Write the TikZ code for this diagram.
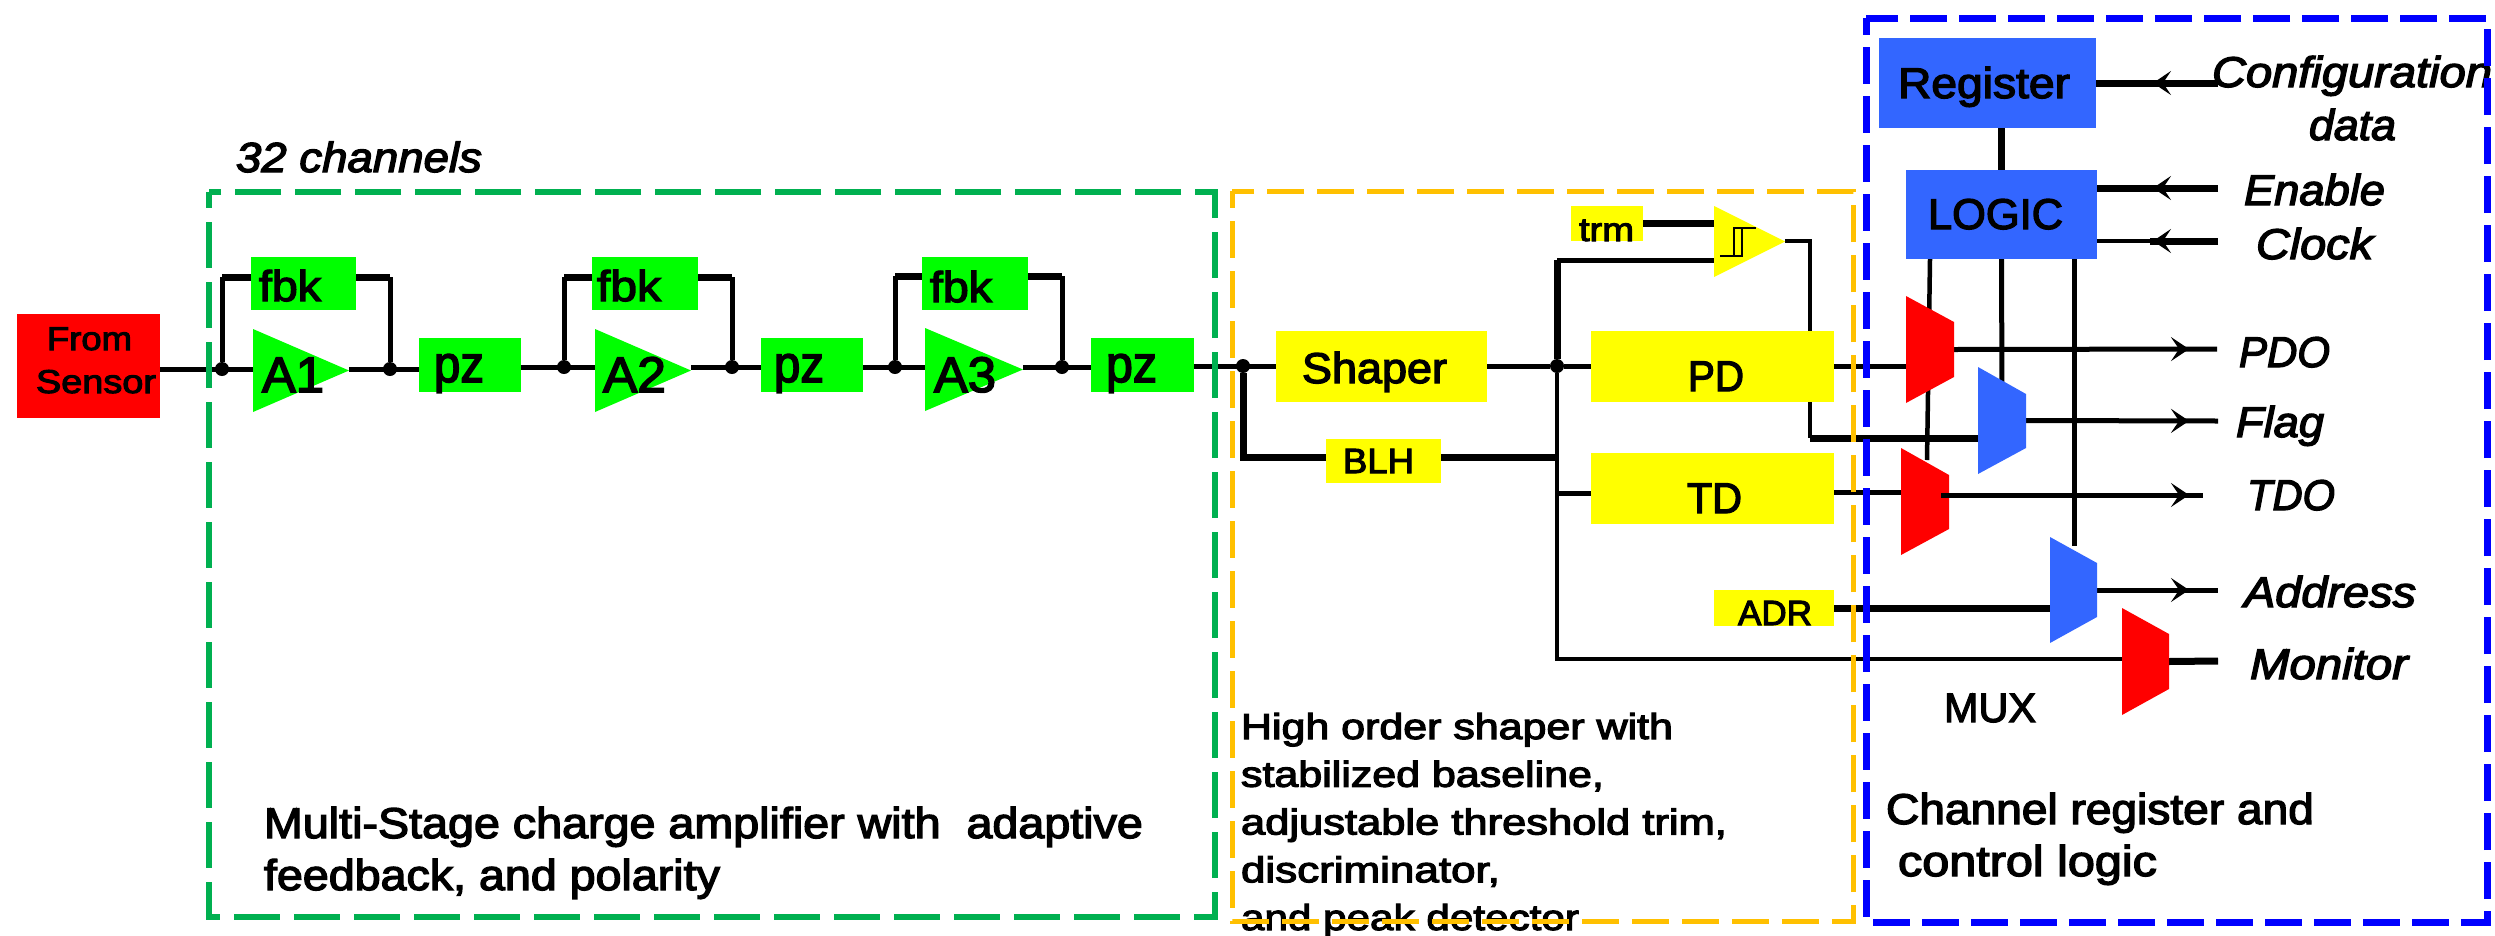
\documentclass[tikz,border=0pt]{standalone}
\usepackage{fontspec}
\setmainfont{Liberation Sans}[FakeBold=3]
\usetikzlibrary{arrows.meta,decorations.markings}
\pgfdeclarelayer{wires}
\pgfdeclarelayer{top}
\pgfsetlayers{wires,main,top}
\definecolor{frgreen}{HTML}{00B050}
\definecolor{frorange}{HTML}{FFC000}
\definecolor{frblue}{HTML}{0000FF}
\definecolor{fgreen}{HTML}{00FF00}
\definecolor{fyellow}{HTML}{FFFF00}
\definecolor{fred}{HTML}{FF0000}
\definecolor{fblue}{HTML}{3366FF}
\newcommand\fitw[2]{\sbox0{#2}\pgfmathsetmacro\fitr{#1/\the\wd0}\scalebox{\fitr}[1]{\usebox0}}
\newcommand\fs[1]{\fontsize{#1}{#1}\selectfont}
% name, style, x0, y0, x1, y1
\newcommand\boxn[6]{\node[#2,minimum width={(#5-#3)*1pt},minimum height={(#6-#4)*1pt}] (#1) at ({(#3+#5)/2},{(#4+#6)/2}) {};}
% name, colour, x0, x1, ytop, ybot
\newcommand\tri[6]{\fill[#2] (#3,#5) -- (#4,{(#5+#6)/2}) -- (#3,#6) -- cycle;
  \boxn{#1}{shapebox}{#3}{#5}{#4}{#6}}
% name, colour, x0, x1, ylt, ylb, yrt, yrb
\newcommand\mux[8]{\fill[#2] (#3,#5) -- (#4,#7) -- (#4,#8) -- (#3,#6) -- cycle;
  \boxn{#1}{shapebox}{#3}{#5}{#4}{#6}}
% name, size, x, baseline, width, text
\newcommand\lab[6]{\node[txt] (#1) at (#3,#4) {\fs{#2}\fitw{#5}{#6}};}
\newcommand\labi[6]{\node[txt] (#1) at (#3,#4) {\fs{#2}\itshape\fitw{#5}{#6}};}
\tikzset{
  shapebox/.style={inner sep=0pt,outer sep=0pt},
  gbox/.style={shapebox,fill=fgreen},
  ybox/.style={shapebox,fill=fyellow},
  rbox/.style={shapebox,fill=fred},
  bbox/.style={shapebox,fill=fblue},
  txt/.style={anchor=base west,inner sep=0pt,outer sep=0pt,text=black},
  jdot/.style={circle,fill=black,minimum size=14pt,inner sep=0pt},
  wire/.style={draw=black,line width=5pt,line cap=butt,line join=miter},
  wirethin/.style={draw=black,line width=4.5pt,line join=miter},
  wirethick/.style={draw=black,line width=7pt,line join=miter},
  arr/.style={postaction={decorate,decoration={markings,mark=at position #1 with {\arrow{Stealth[length=18pt,width=24pt,inset=8pt]}}}}},
  greenframe/.style={draw=frgreen,line width=6.5pt,dash pattern=on 46pt off 14pt,dash phase=30pt},
  orangeframe/.style={draw=frorange,line width=5pt,dash pattern=on 37pt off 13pt,dash phase=20pt},
  blueframe/.style={draw=frblue,line width=7pt,dash pattern=on 37pt off 12pt,dash phase=20pt},
}
\begin{document}
\begin{tikzpicture}[x=1pt,y=-1pt]
\useasboundingbox (0,0) rectangle (2495,935);
% ---- blocks
\boxn{Sensor}{rbox}{17}{314}{160}{418}
\boxn{fbk1}{gbox}{251}{257}{356}{310}
\boxn{fbk2}{gbox}{592}{257}{698}{310}
\boxn{fbk3}{gbox}{922}{257}{1028}{310}
\tri{A1}{fgreen}{253}{349}{329}{412}
\tri{A2}{fgreen}{595}{691}{329}{412}
\tri{A3}{fgreen}{925}{1023}{328}{411}
\boxn{pz1}{gbox}{419}{338}{521}{392}
\boxn{pz2}{gbox}{761}{338}{863}{392}
\boxn{pz3}{gbox}{1091}{338}{1194}{392}
\boxn{Shaper}{ybox}{1276}{331}{1487}{402}
\boxn{BLH}{ybox}{1326}{439}{1441}{483}
\boxn{trm}{ybox}{1571}{206}{1643}{241}
\tri{Comp}{fyellow}{1714}{1785}{206}{277}
\boxn{PD}{ybox}{1591}{331}{1834}{402}
\boxn{TD}{ybox}{1591}{453}{1834}{524}
\boxn{ADR}{ybox}{1714}{590}{1834}{626}
\boxn{Register}{bbox}{1879}{38}{2096}{128}
\boxn{LOGIC}{bbox}{1906}{170}{2097}{259}
\mux{M1}{fred}{1906}{1954}{296}{403}{322}{377}
\mux{M2}{fblue}{1978}{2026}{367}{474}{394}{448}
\mux{M3}{fred}{1901}{1949}{448}{555}{475}{529}
\mux{M4}{fblue}{2050}{2097}{537}{643}{563}{617}
\mux{M5}{fred}{2122}{2169}{608}{715}{634}{689}
% hysteresis symbol of the comparator
\draw[black,line width=1.8pt] (1720,256) -- (1742,256) -- (1742,228);
\draw[black,line width=1.8pt] (1734,256) -- (1734,228) -- (1756,228);
% ---- junctions and free ends
\node[jdot] (j1) at (222,369) {};
\node[jdot] (j2) at (390,369) {};
\node[jdot] (j3) at (564,367) {};
\node[jdot] (j4) at (732,367) {};
\node[jdot] (j5) at (895,367) {};
\node[jdot] (j6) at (1062,367) {};
\node[jdot] (j7) at (1243,366) {};
\node[jdot] (j8) at (1557,366) {};
\coordinate (f1L) at (222,277); \coordinate (f1R) at (390,277);
\coordinate (f2L) at (564,277); \coordinate (f2R) at (732,277);
\coordinate (f3L) at (895,276); \coordinate (f3R) at (1062,276);
\coordinate (blhL) at (1243,457); \coordinate (blhR) at (1557,457);
\coordinate (trunkT) at (1557,260); \coordinate (trunkB) at (1557,659);
\coordinate (tdIn) at (1557,493); \coordinate (tdOut) at (1834,492);
\coordinate (c1) at (1810,241); \coordinate (c2) at (1810,438);
\coordinate (cfgEnd) at (2218,83); \coordinate (enEnd) at (2218,188);
\coordinate (clkEnd) at (2218,241); \coordinate (clkMid) at (2150,241);
\coordinate (pdoEnd) at (2217,349); \coordinate (flagEnd) at (2218,421);
\coordinate (tdoStart) at (1941,495); \coordinate (tdoEnd) at (2203,495);
\coordinate (addrEnd) at (2218,590); \coordinate (monEnd) at (2218,661);
\coordinate (d1t) at (1930,259); \coordinate (d1b) at (1927,460);
\coordinate (d2b) at (2002,400);
\coordinate (d3t) at (2074,259); \coordinate (d3b) at (2074,546);
% ---- connectors
\begin{pgfonlayer}{wires}
\draw[wire] (Sensor.east |- j1) -- (A1.west |- j1);
\draw[wire] (A1.east |- j2) -- (pz1.west |- j2);
\draw[wire] (pz1.east |- j3) -- (A2.west |- j3);
\draw[wire] (A2.east |- j4) -- (pz2.west |- j4);
\draw[wire] (pz2.east |- j5) -- (A3.west |- j5);
\draw[wire] (A3.east |- j6) -- (pz3.west |- j6);
\draw[wire] (pz3.east |- j7) -- (Shaper.west |- j7);
\draw[wire] (j1) -- (f1L); \draw[wire] (j2) -- (f1R);
\draw[wire] (j3) -- (f2L); \draw[wire] (j4) -- (f2R);
\draw[wire] (j5) -- (f3L); \draw[wire] (j6) -- (f3R);
\draw[wirethick,line cap=square] (f1L) -- (fbk1.west |- f1L); \draw[wirethick,line cap=square] (fbk1.east |- f1R) -- (f1R);
\draw[wirethick,line cap=square] (f2L) -- (fbk2.west |- f2L); \draw[wirethick,line cap=square] (fbk2.east |- f2R) -- (f2R);
\draw[wirethick,line cap=square] (f3L) -- (fbk3.west |- f3L); \draw[wirethick,line cap=square] (fbk3.east |- f3R) -- (f3R);
\draw[wire] (Shaper.east |- j8) -- (j8) -- (PD.west |- j8);
\draw[wirethick] (j7) -- (blhL) -- (BLH.west |- blhL);
\draw[wirethick] (BLH.east |- blhR) -- (blhR);
\draw[wirethick] (j8) -- (trunkT);
\draw[wire,line cap=square] (trunkT) -- (Comp.west |- trunkT);
\draw[wirethin] (j8) -- (trunkB) -- (M5.west |- trunkB);
\draw[wire] (tdIn) -- (TD.west |- tdIn);
\draw[wirethick] (trm.east) -- (Comp.west |- trm.east);
\draw[wirethin] (Comp.east |- c1) -- (c1) -- (c2);
\draw[wirethick] (c2) -- (M2.west |- c2);
\draw[wire] (PD.east) -- (M1.west |- PD.east);
\draw[wire] (tdOut) -- (M3.west |- tdOut);
\draw[wirethick] (ADR.east) -- (M4.west |- ADR.east);
\draw[wirethick] (Register.south -| LOGIC.north) -- (LOGIC.north);
\draw[wirethick,arr=65pt] (cfgEnd) -- (Register.east);
\draw[wirethick,arr=65pt] (enEnd) -- (LOGIC.east |- enEnd);
\draw[wirethick,arr=65pt] (clkEnd) -- (clkMid);
\draw[wirethin] (clkMid) -- (LOGIC.east |- clkMid);
\draw[wirethin] (d1t) -- (d1b);
\draw[wire] (LOGIC.south) -- (d2b);
\draw[wire] (d3t) -- (d3b);
\draw[wire,arr=235pt] (M1.east) -- (pdoEnd);
\draw[wire,arr=163pt] (M2.east) -- (flagEnd);
\draw[wire,arr=92pt] (M4.east) -- (addrEnd);
\draw[wirethick] (M5.east) -- (monEnd);
\end{pgfonlayer}
% ---- texts
\lab{tFrom}{33}{47}{350}{85}{From}
\lab{tSensor}{33}{36}{393}{120}{Sensor}
\lab{tfbk1}{43}{259}{301}{62}{fbk}
\lab{tfbk2}{43}{597}{301}{64}{fbk}
\lab{tfbk3}{43}{930}{302}{62}{fbk}
\lab{tA1}{50}{262}{392}{62}{A1}
\lab{tA2}{50}{603}{392}{63}{A2}
\lab{tA3}{50}{934}{392}{62}{A3}
\lab{tpz1}{52}{434}{382}{50}{pz}
\lab{tpz2}{52}{774}{382}{50}{pz}
\lab{tpz3}{52}{1106}{382}{51}{pz}
\lab{tShaper}{43}{1302}{383}{145}{Shaper}
\lab{tBLH}{35}{1343}{473}{71}{BLH}
\lab{ttrm}{33}{1579}{241}{55}{trm}
\lab{tPD}{43}{1688}{391}{56}{PD}
\lab{tTD}{43}{1687}{513}{55}{TD}
\lab{tADR}{35}{1738}{625}{74}{ADR}
\lab{tRegister}{43}{1898}{98}{172}{Register}
\lab{tLOGIC}{43}{1928}{229}{135}{LOGIC}
\lab{tMUX}{41}{1944}{722}{92}{MUX}
\labi{tCfg}{43}{2212}{87}{280}{Configuration}
\labi{tData}{43}{2309}{140}{87}{data}
\labi{tEnable}{43}{2244}{205}{141}{Enable}
\labi{tClock}{43}{2256}{259}{117}{Clock}
\labi{tPDO}{43}{2239}{367}{91}{PDO}
\labi{tFlag}{43}{2236}{437}{88}{Flag}
\labi{tTDO}{43}{2247}{510}{88}{TDO}
\labi{tAddress}{43}{2244}{607}{172}{Address}
\labi{tMonitor}{43}{2250}{679}{158}{Monitor}
\labi{t32}{42}{236}{172}{246}{32 channels}
\node[txt] (tAmp) at (264,890) {\vbox{\fs{43}\baselineskip=52pt
  \hbox{\fitw{879}{Multi-Stage charge amplifier with\ \ adaptive}}
  \hbox{\fitw{456}{feedback, and polarity}}}};
\node[txt] (tShape) at (1241,930) {\vbox{\fs{36}\baselineskip=47.75pt
  \hbox{\fitw{432}{High order shaper with}}
  \hbox{\fitw{363}{stabilized baseline,}}
  \hbox{\fitw{486}{adjustable threshold trim,}}
  \hbox{\fitw{259}{discriminator,}}
  \hbox{\fitw{338}{and peak detector}}}};
\node[txt] (tChan) at (1886,876) {\vbox{\fs{43}\baselineskip=52pt
  \hbox{\fitw{428}{Channel register and}}
  \hbox{\kern12pt\fitw{259}{control logic}}}};
% ---- on top: TDO output and the dashed frames
\begin{pgfonlayer}{top}
\draw[wire,arr=248pt] (tdoStart) -- (tdoEnd);
\draw[greenframe] (209,192) rectangle (1215,917);
\draw[orangeframe] (1232,191) rectangle (1853,921);
\draw[blueframe] (1866,18) rectangle (2487,922);
\end{pgfonlayer}
\end{tikzpicture}
\end{document}
